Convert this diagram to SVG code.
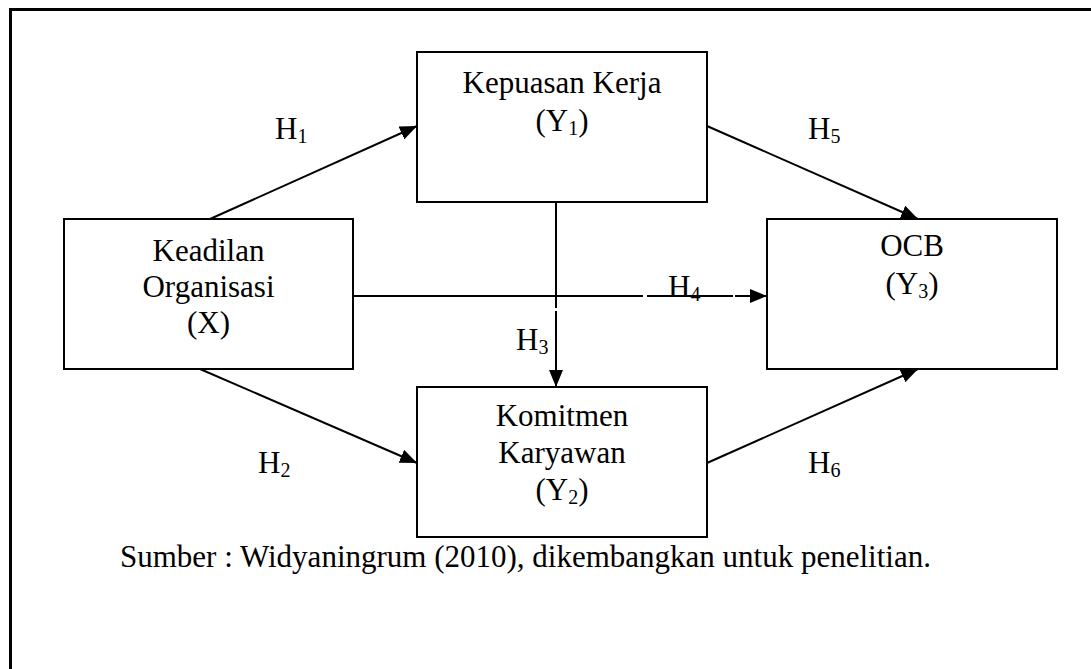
<svg xmlns="http://www.w3.org/2000/svg" width="1091" height="669" viewBox="0 0 1091 669">
<style>
.box{fill:#fff;stroke:#000;stroke-width:2}
.t{font-family:"Liberation Serif","Times New Roman",serif;font-size:31px;fill:#000}
.c{text-anchor:middle}
.s{font-size:20px}
.ln{stroke:#000;stroke-width:2;fill:none}
</style>
<defs>
<marker id="ah" markerUnits="userSpaceOnUse" markerWidth="18" markerHeight="14" refX="17" refY="7" orient="auto">
<path d="M0,0 L17,7 L0,14 z" fill="#000"/>
</marker>
</defs>
<rect width="1091" height="669" fill="#fff"/>
<path d="M10.5,669 V9.5 H1091" fill="none" stroke="#000" stroke-width="3"/>
<g id="connectors">
<line class="ln" x1="210" y1="219" x2="417" y2="126" marker-end="url(#ah)"/>
<line class="ln" x1="200" y1="369" x2="417" y2="463" marker-end="url(#ah)"/>
<path class="ln" d="M556,202 V308 M556,311 V387" marker-end="url(#ah)"/>
<path class="ln" d="M353,296 H643 M647,296 H733 M735,296 H767" marker-end="url(#ah)"/>
<line class="ln" x1="707" y1="126" x2="918" y2="219" marker-end="url(#ah)"/>
<line class="ln" x1="707" y1="463" x2="918" y2="369" marker-end="url(#ah)"/>
</g>
<g id="n-kepuasan">
<rect class="box" x="417" y="52" width="290" height="150"/>
<text class="t c" x="562" y="93">Kepuasan Kerja</text>
<text class="t c" x="562" y="131">(Y<tspan class="s" dy="4">1</tspan><tspan dy="-4">)</tspan></text>
</g>
<g id="n-keadilan">
<rect class="box" x="64" y="219" width="289" height="150"/>
<text class="t c" x="208.5" y="261">Keadilan</text>
<text class="t c" x="208.5" y="297">Organisasi</text>
<text class="t c" x="208.5" y="333">(X)</text>
</g>
<g id="n-ocb">
<rect class="box" x="767" y="219" width="290" height="150"/>
<text class="t c" x="912" y="256">OCB</text>
<text class="t c" x="912" y="294">(Y<tspan class="s" dy="4">3</tspan><tspan dy="-4">)</tspan></text>
</g>
<g id="n-komitmen">
<rect class="box" x="417" y="387" width="290" height="150"/>
<text class="t c" x="562" y="426">Komitmen</text>
<text class="t c" x="562" y="463">Karyawan</text>
<text class="t c" x="562" y="500">(Y<tspan class="s" dy="4">2</tspan><tspan dy="-4">)</tspan></text>
</g>
<g id="labels">
<text class="t" x="275" y="139">H<tspan class="s" dy="4">1</tspan></text>
<text class="t" x="258" y="473">H<tspan class="s" dy="4">2</tspan></text>
<text class="t" x="516" y="350">H<tspan class="s" dy="4">3</tspan></text>
<text class="t" x="668" y="297">H<tspan class="s" dy="4">4</tspan></text>
<text class="t" x="808" y="139">H<tspan class="s" dy="4">5</tspan></text>
<text class="t" x="808" y="473">H<tspan class="s" dy="4">6</tspan></text>
</g>
<text class="t" x="120" y="567">Sumber : Widyaningrum (2010), dikembangkan untuk penelitian.</text>
</svg>
